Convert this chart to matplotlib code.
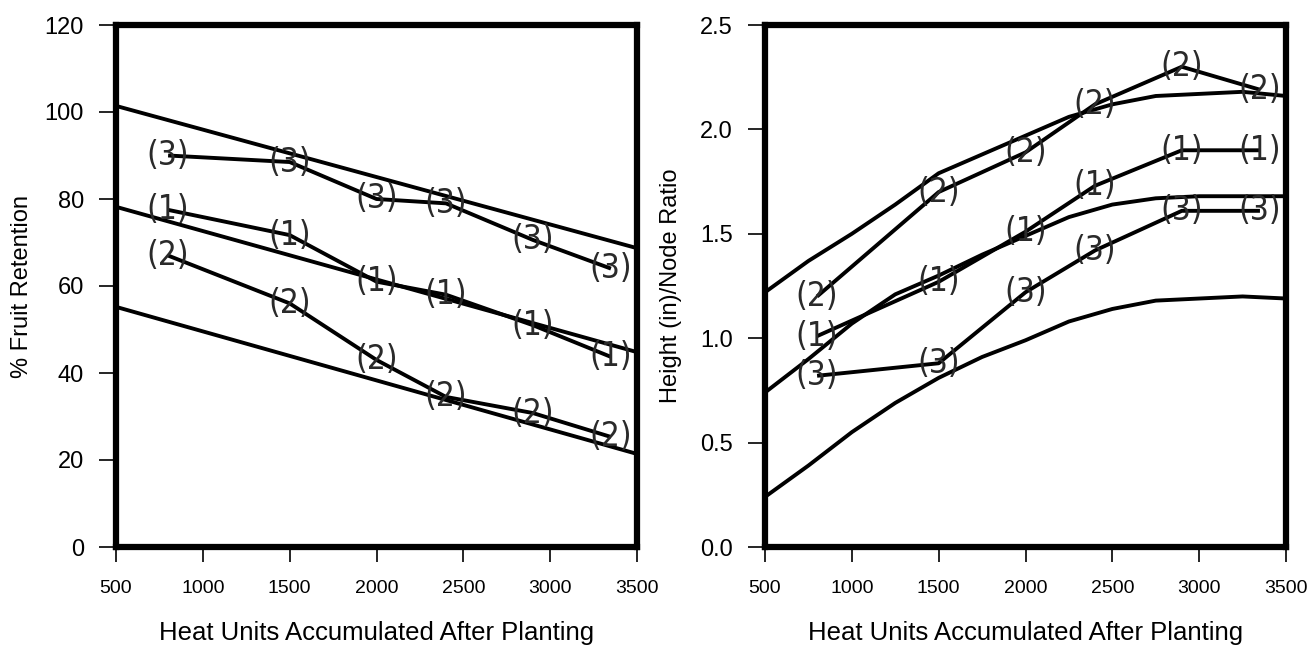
import matplotlib
matplotlib.use("Agg")
import matplotlib.pyplot as plt

# ---------------- data ----------------
heat_pts = [800, 1500, 2000, 2400, 2900, 3350]
point_labels = ["(1)", "(2)", "(3)"]

# Left panel: % fruit retention (observed) and reference lines
retention_1 = [77.5, 71.7, 61.0, 58.0, 51.0, 43.7]
retention_2 = [67.0, 56.0, 43.0, 34.5, 30.8, 25.3]
retention_3 = [90.0, 88.5, 80.0, 79.0, 70.6, 64.0]

ret_ref_x = [500, 3500]
ret_ref_upper = [101.4, 68.7]
ret_ref_middle = [78.2, 44.8]
ret_ref_lower = [55.2, 21.4]

# Right panel: height/node ratio (observed) and reference curves
height_1 = [1.01, 1.27, 1.51, 1.73, 1.90, 1.90]
height_2 = [1.20, 1.70, 1.89, 2.12, 2.30, 2.19]
height_3 = [0.82, 0.88, 1.22, 1.42, 1.61, 1.61]

hn_ref_x = [500, 750, 1000, 1250, 1500, 1750, 2000, 2250, 2500, 2750, 3000, 3250, 3500]
hn_ref_upper = [1.22, 1.37, 1.50, 1.64, 1.79, 1.88, 1.97, 2.06, 2.12, 2.16, 2.17, 2.18, 2.16]
hn_ref_middle = [0.74, 0.90, 1.07, 1.21, 1.30, 1.40, 1.49, 1.58, 1.64, 1.67, 1.68, 1.68, 1.68]
hn_ref_lower = [0.24, 0.39, 0.55, 0.69, 0.81, 0.91, 0.99, 1.08, 1.14, 1.18, 1.19, 1.20, 1.19]

x_ticks = [500, 1000, 1500, 2000, 2500, 3000, 3500]
ret_ticks = [0, 20, 40, 60, 80, 100, 120]
hn_ticks = [0.0, 0.5, 1.0, 1.5, 2.0, 2.5]

x_label = "Heat Units Accumulated After Planting"
ret_label = "% Fruit Retention"
hn_label = "Height (in)/Node Ratio"

# ---------------- style ----------------
plt.rcParams["font.family"] = ["Liberation Sans", "DejaVu Sans"]
LW = 2.8
LABEL_FONT = dict(family=["DejaVu Sans"], stretch="condensed", weight="normal",
                  size=24, color="#2a2a2a")

fig = plt.figure(figsize=(13.08, 6.48), dpi=100)
ax1 = fig.add_axes([116 / 1308, 1 - 547 / 648, 521 / 1308, 522 / 648])
ax2 = fig.add_axes([765 / 1308, 1 - 547 / 648, 521 / 1308, 522 / 648])


def style_axes(ax, yticks, ylim, fmt, ylabel):
    ax.set_xlim(500, 3500)
    ax.set_ylim(*ylim)
    ax.set_xticks(x_ticks)
    ax.set_xticklabels([str(t) for t in x_ticks])
    ax.set_yticks(yticks)
    ax.set_yticklabels([fmt.format(t) for t in yticks])
    for s in ax.spines.values():
        s.set_linewidth(4.5)
        s.set_color("black")
    ax.tick_params(axis="x", direction="out", length=11, width=1.2, pad=13, labelsize=14)
    ax.tick_params(axis="y", direction="out", length=12, width=1.2, pad=11, labelsize=17)
    ax.set_xlabel(x_label, fontsize=18.5, va="center")
    ax.xaxis.set_label_coords(0.5, -0.165)
    ax.set_ylabel(ylabel, fontsize=17, va="center")
    ax.yaxis.set_label_coords(-0.180, 0.5)


def draw_series(ax, ys_list, refs, ref_x):
    for ry in refs:
        ax.plot(ref_x, ry, color="black", lw=LW, solid_capstyle="butt", clip_on=False)
    for lab, ys in zip(point_labels, ys_list):
        ax.plot(heat_pts, ys, color="black", lw=LW, solid_capstyle="butt")
        for x, y in zip(heat_pts, ys):
            ax.text(x, y, lab, ha="center", va="center", **LABEL_FONT)


draw_series(ax1, [retention_1, retention_2, retention_3],
            [ret_ref_upper, ret_ref_middle, ret_ref_lower], ret_ref_x)
style_axes(ax1, ret_ticks, (0, 120), "{:d}", ret_label)

draw_series(ax2, [height_1, height_2, height_3],
            [hn_ref_upper, hn_ref_middle, hn_ref_lower], hn_ref_x)
style_axes(ax2, hn_ticks, (0, 2.5), "{:.1f}", hn_label)

fig.savefig("out.png", dpi=100, facecolor="white")
